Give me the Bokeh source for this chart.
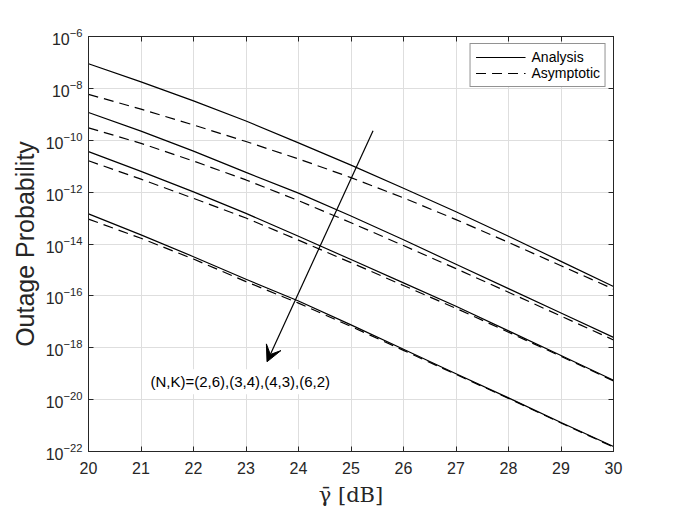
from bokeh.plotting import figure
from bokeh.models import (LinearAxis, LogAxis, FixedTicker, Legend, LegendItem,
                          Arrow, VeeHead, Label)
from bokeh.embed import file_html
from bokeh.resources import INLINE

# ---------------- data ----------------
snr_db = [20, 21, 22, 23, 24, 25, 26, 27, 28, 29, 30]

analysis_26 = [8.91e-8, 1.78e-8, 3.31e-9, 5.50e-10, 7.94e-11, 1.10e-11, 1.41e-12, 1.74e-13, 2.00e-14, 2.14e-15, 2.29e-16]
asympt_26 = [5.89e-9, 1.58e-9, 3.89e-10, 8.91e-11, 1.91e-11, 3.63e-12, 6.03e-13, 8.71e-14, 1.15e-14, 1.45e-15, 1.82e-16]

analysis_34 = [1.17e-9, 2.24e-10, 3.80e-11, 5.75e-12, 9.12e-13, 1.20e-13, 1.45e-14, 1.66e-15, 1.91e-16, 2.19e-17, 2.51e-18]
asympt_34 = [3.02e-10, 7.59e-11, 1.58e-11, 2.95e-12, 4.68e-13, 6.61e-14, 8.71e-15, 1.12e-15, 1.38e-16, 1.66e-17, 2.00e-18]

analysis_43 = [3.63e-11, 6.31e-12, 1.02e-12, 1.51e-13, 2.00e-14, 2.51e-15, 3.16e-16, 3.98e-17, 4.47e-18, 5.01e-19, 5.62e-20]
asympt_43 = [1.62e-11, 3.16e-12, 5.75e-13, 1.00e-13, 1.41e-14, 1.91e-15, 2.51e-16, 3.31e-17, 3.98e-18, 4.68e-19, 5.25e-20]

analysis_62 = [1.45e-13, 2.24e-14, 3.24e-15, 4.37e-16, 6.31e-17, 7.59e-18, 8.71e-19, 1.00e-19, 1.17e-20, 1.32e-21, 1.55e-22]
asympt_62 = [9.12e-14, 1.66e-14, 2.63e-15, 3.55e-16, 5.25e-17, 6.61e-18, 7.94e-19, 9.33e-20, 1.12e-20, 1.26e-21, 1.48e-22]

x_ticks = [20, 21, 22, 23, 24, 25, 26, 27, 28, 29, 30]
y_ticks = [1e-22, 1e-20, 1e-18, 1e-16, 1e-14, 1e-12, 1e-10, 1e-8, 1e-6]

annotation_text = "(N,K)=(2,6),(3,4),(4,3),(6,2)"
# annotation anchor points (data coordinates)
arrow_start = (25.42, 2.34e-10)
arrow_end = (23.40, 2.88e-19)
label_pos = (22.89, 4.9e-20)

# ---------------- figure ----------------
AX = "#262626"
FONT = "Liberation Sans"

p = figure(frame_width=525, frame_height=415,
           x_range=(20, 30), y_range=(1e-22, 1e-6), y_axis_type="log",
           output_backend="svg", toolbar_location=None,
           min_border_left=88, min_border_right=56,
           min_border_top=36, min_border_bottom=52)
p.outline_line_color = AX
p.outline_line_width = 1
p.background_fill_color = "white"
p.border_fill_color = "white"

xax = p.below[0]
yax = p.left[0]

xax.ticker = FixedTicker(ticks=x_ticks, minor_ticks=[])
yax.ticker = FixedTicker(ticks=y_ticks, minor_ticks=[])
p.xgrid.ticker = FixedTicker(ticks=x_ticks, minor_ticks=[])
p.ygrid.ticker = FixedTicker(ticks=y_ticks, minor_ticks=[])
p.grid.grid_line_color = "#dedede"
p.grid.grid_line_width = 1

right_ax = LogAxis(ticker=FixedTicker(ticks=y_ticks, minor_ticks=[]),
                   major_label_text_font_size="2px", major_label_text_alpha=0,
                   major_label_standoff=0)
top_ax = LinearAxis(ticker=FixedTicker(ticks=x_ticks, minor_ticks=[]),
                    major_label_text_font_size="2px", major_label_text_alpha=0,
                    major_label_standoff=0)
p.add_layout(right_ax, "right")
p.add_layout(top_ax, "above")

for ax in [xax, yax, right_ax, top_ax]:
    ax.major_tick_in = 5
    ax.major_tick_out = 0
    ax.minor_tick_in = 0
    ax.minor_tick_out = 0
    ax.axis_line_color = AX
    ax.major_tick_line_color = AX

for ax in [xax, yax]:
    ax.major_label_text_color = AX
    ax.major_label_text_font = FONT
    ax.major_label_text_font_size = "16px"

xax.major_label_standoff = 10
yax.major_label_standoff = 6

yax.axis_label = "Outage Probability"
yax.axis_label_text_font = FONT
yax.axis_label_text_font_size = "25px"
yax.axis_label_text_font_style = "normal"
yax.axis_label_text_color = AX
yax.axis_label_standoff = 4

xax.axis_label = "\u03b3\u0304 [dB]"
xax.axis_label_text_font = "DejaVu Serif"
xax.axis_label_text_font_size = "21px"
xax.axis_label_text_font_style = "normal"
xax.axis_label_text_color = AX
xax.axis_label_standoff = 6

series = [(analysis_26, asympt_26), (analysis_34, asympt_34),
          (analysis_43, asympt_43), (analysis_62, asympt_62)]
solid_r, dash_r = [], []
for a, s in series:
    solid_r.append(p.line(snr_db, a, line_color="black", line_width=1.2))
    dash_r.append(p.line(snr_db, s, line_color="black", line_width=1.2,
                         line_dash="10 6"))

legend = Legend(items=[LegendItem(label="Analysis", renderers=[solid_r[0]]),
                       LegendItem(label="Asymptotic", renderers=[dash_r[0]])],
                location="top_right", margin=7, padding=5, spacing=0,
                label_text_font=FONT, label_text_font_size="14px",
                label_text_color="black",
                glyph_width=50, glyph_height=16, label_height=16,
                label_standoff=6,
                border_line_color=AX, border_line_width=1,
                background_fill_color="white", background_fill_alpha=1)
p.add_layout(legend)

p.add_layout(Arrow(end=VeeHead(size=16, fill_color="black", line_color="black",
                               line_width=1),
                   x_start=arrow_start[0], y_start=arrow_start[1],
                   x_end=arrow_end[0], y_end=arrow_end[1],
                   line_color="black", line_width=1.2))

p.add_layout(Label(x=label_pos[0], y=label_pos[1], text=annotation_text,
                   text_align="center", text_baseline="middle",
                   text_font=FONT, text_font_size="15px", text_color="black",
                   background_fill_color="white", background_fill_alpha=1,
                   padding=4))

open("out.html", "w").write(file_html(p, INLINE))
